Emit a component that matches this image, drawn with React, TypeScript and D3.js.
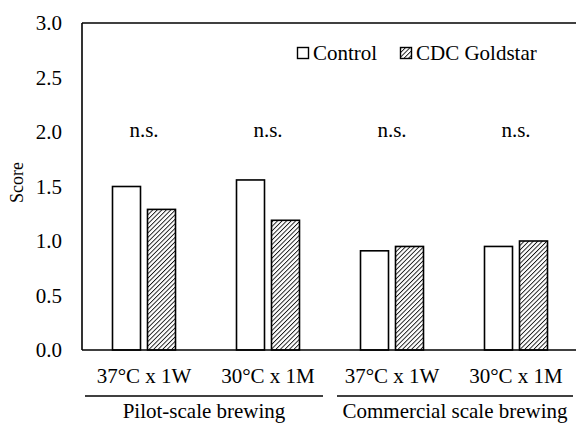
import React from 'react';
import { scaleBand, scaleLinear, range } from 'd3';

const categories = ['37°C x 1W', '30°C x 1M', '37°C x 1W', '30°C x 1M'];
const seriesNames = ['Control', 'CDC Goldstar'];
const control = [1.5, 1.56, 0.91, 0.95];
const goldstar = [1.29, 1.19, 0.95, 1.0];
const sigLabels = ['n.s.', 'n.s.', 'n.s.', 'n.s.'];
const groupLabels = ['Pilot-scale brewing', 'Commercial scale brewing'];
const groupSizes = [2, 2];
const yTicks = [0, 0.5, 1.0, 1.5, 2.0, 2.5, 3.0];

const width = 576;
const height = 425;
const margin = { top: 23, right: -2, bottom: 75, left: 82 };
const serif = { fontFamily: "'Liberation Serif', 'Times New Roman', serif" };

const App = () => {
    const plotBottom = height - margin.bottom;
    const plotRight = width - margin.right;

    const x = scaleBand<number>()
        .domain(range(categories.length))
        .range([margin.left, plotRight]);
    const inner = scaleBand<string>()
        .domain(seriesNames)
        .range([-31.5, 31.5])
        .paddingInner(0.2);
    const y = scaleLinear().domain([0, 3]).range([plotBottom, margin.top]);

    const values = [control, goldstar];

    // group spans under the category labels
    let start = 0;
    const groups = groupSizes.map((n, gi) => {
        const x0 = x(start)!;
        const x1 = x(start + n - 1)! + x.bandwidth();
        start += n;
        return { label: groupLabels[gi], x0: x0 + (gi === 0 ? 3 : 7), x1: x1 - (gi === 0 ? 7 : 5) };
    });

    return (
        <svg width={width} height={height} style={{ position: 'absolute', left: 0, top: 0, background: '#fff' }}>
            <defs>
                <pattern id="hatch" width="3.2" height="3.2" patternUnits="userSpaceOnUse" patternTransform="rotate(45)">
                    <rect width="3.2" height="3.2" fill="#fff" />
                    <line x1="0" y1="0" x2="0" y2="3.2" stroke="#111" strokeWidth="1.8" />
                </pattern>
            </defs>

            {/* y tick labels */}
            {yTicks.map(t => (
                <text key={t} x={62} y={y(t)} dy="0.35em" textAnchor="end" fontSize={21} fill="#000" style={serif}>
                    {t.toFixed(1)}
                </text>
            ))}

            <text transform={`translate(23,${(margin.top + plotBottom) / 2 - 4}) rotate(-90)`} textAnchor="middle" fontSize={18} fill="#000" style={serif}>
                Score
            </text>

            {/* bars */}
            {categories.map((c, i) => {
                const cx = x(i)! + x.bandwidth() / 2;
                return (
                    <g key={i}>
                        {seriesNames.map((s, si) => (
                            <rect
                                key={s}
                                x={cx + inner(s)!}
                                y={y(values[si][i])}
                                width={inner.bandwidth()}
                                height={plotBottom - y(values[si][i])}
                                fill={si === 0 ? '#fff' : 'url(#hatch)'}
                                stroke="#000"
                                strokeWidth={1.6}
                            />
                        ))}
                        <text x={cx} y={137} textAnchor="middle" fontSize={21} fill="#000" style={serif}>
                            {sigLabels[i]}
                        </text>
                        <text x={cx} y={383} textAnchor="middle" fontSize={21} fill="#000" style={serif}>
                            {c}
                        </text>
                    </g>
                );
            })}

            {/* axes frame */}
            <line x1={margin.left} x2={margin.left} y1={margin.top} y2={plotBottom} stroke="#000" strokeWidth={1.6} />
            <line x1={margin.left} x2={plotRight} y1={margin.top} y2={margin.top} stroke="#000" strokeWidth={1.6} />
            <line x1={margin.left} x2={plotRight} y1={plotBottom} y2={plotBottom} stroke="#000" strokeWidth={1.6} />

            {/* group labels */}
            {groups.map(g => (
                <g key={g.label}>
                    <line x1={g.x0} x2={g.x1} y1={396} y2={396} stroke="#000" strokeWidth={1.6} />
                    <text x={(g.x0 + g.x1) / 2} y={418} textAnchor="middle" fontSize={21} fill="#000" style={serif}>
                        {g.label}
                    </text>
                </g>
            ))}

            {/* legend */}
            <g>
                <rect x={297.5} y={47.5} width={11} height={11} fill="#fff" stroke="#000" strokeWidth={1.4} />
                <text x={313} y={60} fontSize={21} fill="#000" style={serif}>{seriesNames[0]}</text>
                <rect x={400.5} y={47.5} width={11} height={11} fill="url(#hatch)" stroke="#000" strokeWidth={1.4} />
                <text x={416} y={60} fontSize={21} fill="#000" style={serif}>{seriesNames[1]}</text>
            </g>
        </svg>
    );
};

export default App;
